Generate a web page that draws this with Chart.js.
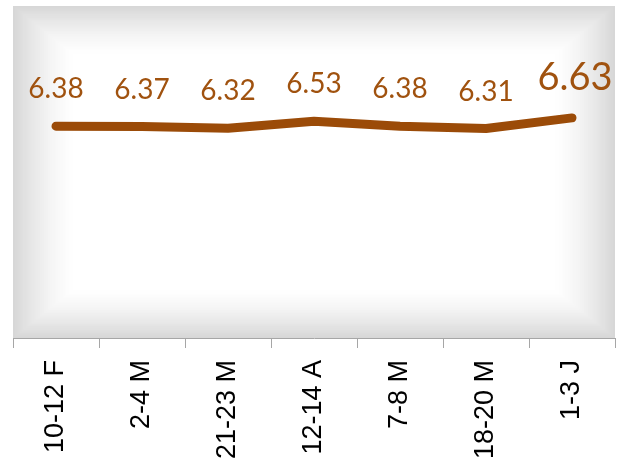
<!DOCTYPE html>
<html>
<head>
<meta charset="utf-8">
<script src="https://cdn.jsdelivr.net/npm/chart.js@4.4.1/dist/chart.umd.min.js"></script>
<style>
    body { margin: 0; background: #ffffff; }
    canvas { display: block; }
</style>
</head>
<body>
<canvas id="lineChart" width="621" height="469"></canvas>
<script>
const labels = ['10-12 F', '2-4 M', '21-23 M', '12-14 A', '7-8 M', '18-20 M', '1-3 J'];
const values = [6.38, 6.37, 6.32, 6.53, 6.38, 6.31, 6.63];
const valueLabels = ['6.38', '6.37', '6.32', '6.53', '6.38', '6.31', '6.63'];

const lineColor = '#9B4B08';
const textColor = '#A0520F';

// plot area fill: grey at the edges fading to white in the middle
const areaGradient = {
    id: 'areaGradient',
    beforeDraw(chart) {
        const { ctx, chartArea } = chart;
        const { left, top, right, bottom } = chartArea;
        const steps = 30;
        const fade = 62;
        ctx.save();
        for (let i = 0; i <= steps; i++) {
            const d = fade * i / steps;
            const t = i / steps;
            const c = Math.round(255 - 40 * Math.pow(1 - t, 1.5));
            ctx.fillStyle = `rgb(${c}, ${c}, ${c})`;
            const dy = d * 0.8;
            ctx.fillRect(left + d, top + dy, (right - left) - 2 * d, (bottom - top) - 2 * dy);
        }
        ctx.restore();
    }
};

const pointLabels = {
    id: 'pointLabels',
    afterDatasetsDraw(chart) {
        const { ctx } = chart;
        const meta = chart.getDatasetMeta(0);
        ctx.save();
        ctx.fillStyle = textColor;
        ctx.textAlign = 'center';
        ctx.textBaseline = 'alphabetic';
        meta.data.forEach((pt, i) => {
            const last = i === meta.data.length - 1;
            ctx.font = last ? '38px Lato' : '28px Lato';
            ctx.fillText(valueLabels[i], pt.x + (last ? 3 : 0), pt.y - 28);
        });
        ctx.restore();
    }
};

const ctx = document.getElementById('lineChart').getContext('2d');
window.lineChart = new Chart(ctx, {
    type: 'line',
    data: {
        labels: labels,
        datasets: [{
            data: values,
            borderColor: lineColor,
            borderWidth: 9,
            borderCapStyle: 'round',
            borderJoinStyle: 'round',
            pointRadius: 0,
            tension: 0,
            fill: false
        }]
    },
    options: {
        responsive: false,
        devicePixelRatio: 1,
        animation: false,
        layout: { padding: { left: 13, right: 6, top: 6, bottom: 0 } },
        plugins: {
            legend: { display: false },
            tooltip: { enabled: false }
        },
        scales: {
            x: {
                offset: true,
                grid: {
                    offset: true,
                    drawOnChartArea: false,
                    tickLength: 10,
                    color: '#a6a6a6'
                },
                border: { color: '#a6a6a6', width: 1 },
                ticks: {
                    color: '#000000',
                    font: { family: 'Liberation Sans', size: 27 },
                    minRotation: 90,
                    maxRotation: 90,
                    padding: 12,
                    autoSkip: false
                },
                afterFit(scale) {
                    scale.height = 131;
                }
            },
            y: {
                display: false,
                min: 0,
                max: 10
            }
        }
    },
    plugins: [areaGradient, pointLabels]
});
</script>
</body>
</html>
